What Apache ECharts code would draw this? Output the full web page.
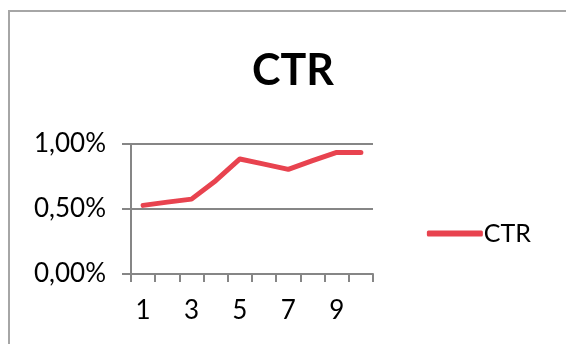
<!DOCTYPE html>
<html><head><meta charset="utf-8">
<script src="https://cdn.jsdelivr.net/npm/echarts@6/dist/echarts.min.js"></script>
<style>html,body{margin:0;padding:0;background:#fff}#c{width:566px;height:344px}</style>
</head><body><div id="c"></div>
<script>
var categories = ['1','2','3','4','5','6','7','8','9','10'];
var ctrValues = [0.528, 0.553, 0.576, 0.718, 0.885, 0.845, 0.805, 0.872, 0.935, 0.935];
var seriesName = 'CTR';
var titleText = 'CTR';

var chart = echarts.init(document.getElementById('c'), null, {renderer:'canvas'});
var font = 'Lato, "Open Sans", sans-serif';
chart.setOption({
  animation:false,
  backgroundColor:'#fff',
  title:{text:titleText,left:288,top:45,textAlign:'center',
    textStyle:{fontFamily:font,fontWeight:'bold',fontSize:43,color:'#000'}},
  legend:{right:30,top:216,itemWidth:56,itemHeight:6,itemGap:0,icon:'roundRect',
    textStyle:{fontFamily:font,fontSize:25,color:'#000',padding:[0,0,0,-4]},
    data:[{name:seriesName}]},
  grid:{left:131,top:144,right:193,bottom:70,containLabel:false},
  xAxis:{type:'category',data:categories,boundaryGap:true,
    axisLine:{lineStyle:{color:'#868686',width:2}},
    axisTick:{show:true,length:8,lineStyle:{color:'#868686',width:2},alignWithLabel:false,interval:0},
    axisLabel:{interval:1,margin:24,fontFamily:font,fontSize:26,color:'#000'},
    splitLine:{show:false}},
  yAxis:{type:'value',min:0,max:1,interval:0.5,
    axisLine:{show:true,lineStyle:{color:'#868686',width:2}},
    axisTick:{show:true,length:9,lineStyle:{color:'#868686',width:2}},
    axisLabel:{margin:25,fontFamily:font,fontSize:26,color:'#000',
      formatter:function(v){return v.toFixed(2).replace('.',',')+'%';}},
    splitLine:{show:true,lineStyle:{color:'#868686',width:2}}},
  graphic:[{type:'rect',shape:{x:9,y:11,width:600,height:400},
    style:{fill:'none',stroke:'#a6a6a6',lineWidth:2},silent:true,z:-1}],
  series:[{name:seriesName,type:'line',data:ctrValues,showSymbol:false,symbol:'none',
    lineStyle:{color:'#e8434f',width:5,cap:'round',join:'round'},itemStyle:{color:'#e8434f'}}]
});
</script></body></html>
